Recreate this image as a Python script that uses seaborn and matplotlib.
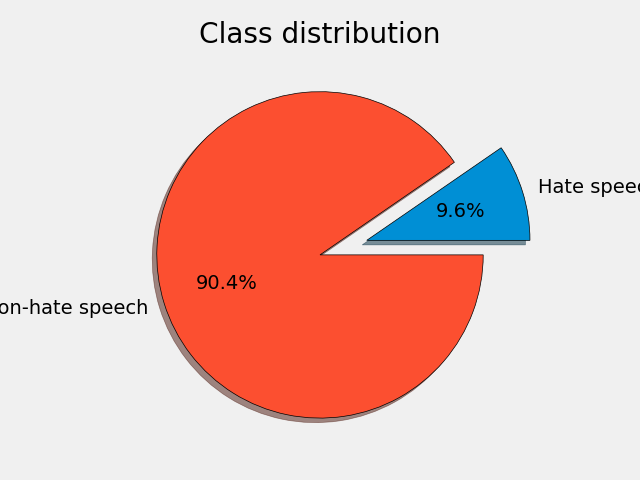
import matplotlib
matplotlib.use("Agg")
import matplotlib.pyplot as plt
import seaborn as sns

labels = ["Hate speech", "Non-hate speech"]
shares = [9.6, 90.4]
explode = [0.3, 0.0]

plt.style.use("fivethirtyeight")
colors = sns.color_palette(["#008fd5", "#fc4f30"])

fig, ax = plt.subplots(figsize=(6.4, 4.8), dpi=100)
fig.subplots_adjust(left=0.05, right=0.95, bottom=0.044, top=0.894)
ax.pie(shares, labels=labels, explode=explode, colors=colors,
       autopct="%1.1f%%", shadow=True,
       wedgeprops={"edgecolor": "black", "linewidth": 0.5})
ax.set_title("Class distribution")
plt.savefig("out.png", dpi=100)
